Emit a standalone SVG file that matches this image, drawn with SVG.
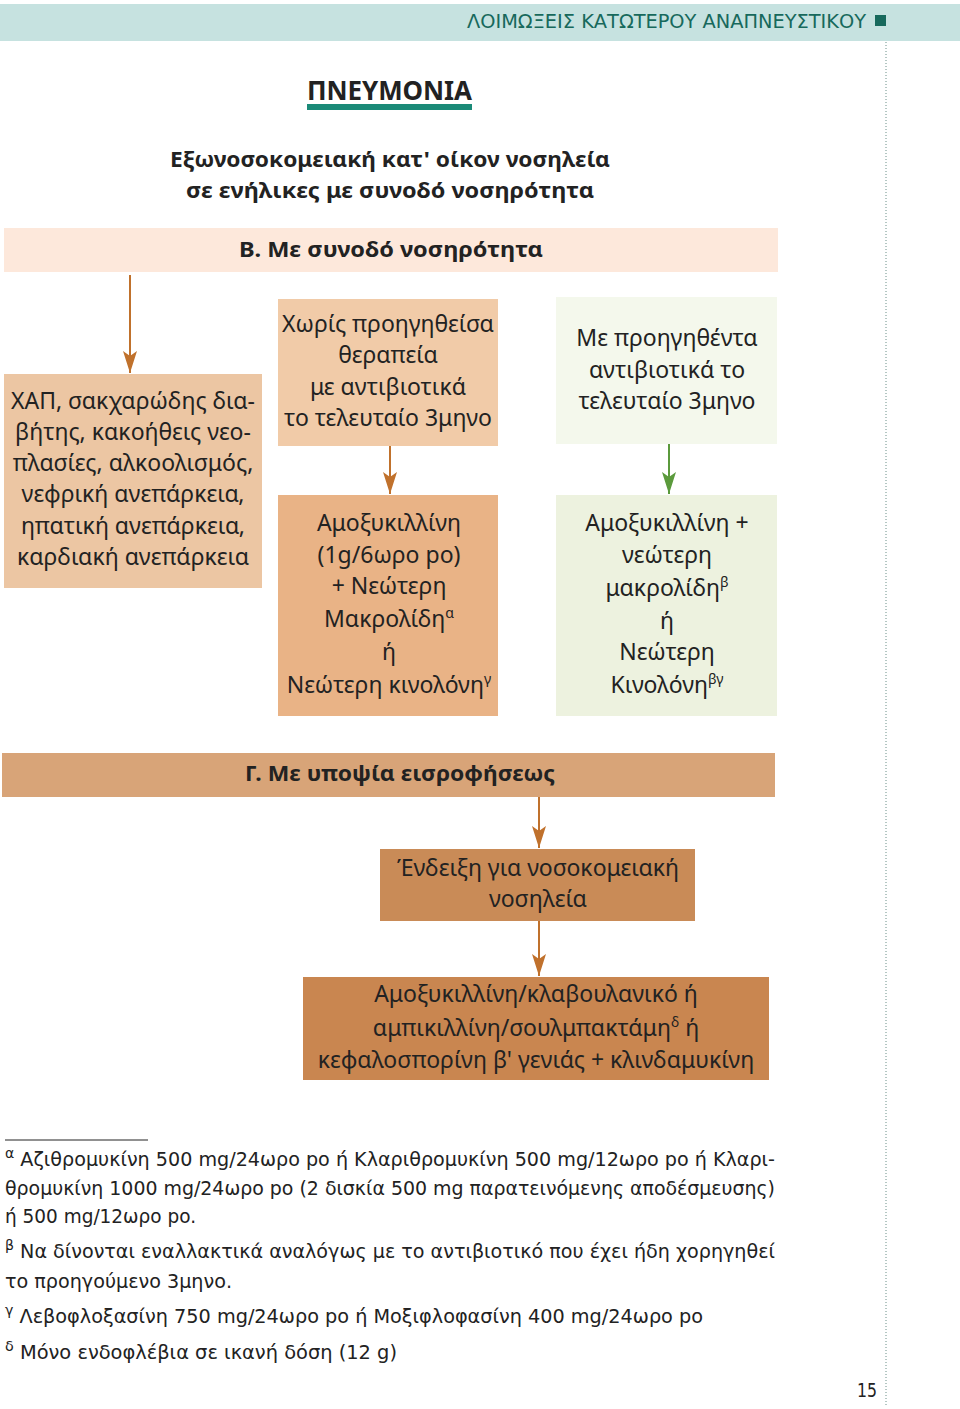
<svg xmlns="http://www.w3.org/2000/svg" width="960" height="1409" viewBox="0 0 960 1409">
<defs>
<style>
.t{font-family:"Noto Sans","DejaVu Sans",sans-serif;font-size:23px;fill:#222;text-anchor:middle}
.b{font-family:"Noto Sans","DejaVu Sans",sans-serif;font-weight:bold;fill:#222;text-anchor:middle}
.f{font-family:"DejaVu Sans Condensed","Noto Sans",sans-serif;font-size:19px;fill:#222}
.sup{font-size:14px}
.ao{stroke:#c0712c;stroke-width:2;fill:none}
.ag{stroke:#5b9a3c;stroke-width:2;fill:none}
</style>
<marker id="mo" markerUnits="userSpaceOnUse" markerWidth="22" markerHeight="14" viewBox="0 0 22 14" refX="22" refY="7" orient="auto"><path d="M0,0 L22,7 L0,14 L5,7 z" fill="#c0712c"/></marker>
<marker id="mg" markerUnits="userSpaceOnUse" markerWidth="22" markerHeight="14" viewBox="0 0 22 14" refX="22" refY="7" orient="auto"><path d="M0,0 L22,7 L0,14 L5,7 z" fill="#5b9a3c"/></marker>
</defs>
<rect width="960" height="1409" fill="#fff"/>
<g id="header">
<rect x="0" y="4" width="960" height="37" fill="#c6e2e0"/>
<text x="467" y="28" font-family="'DejaVu Sans Condensed','Noto Sans',sans-serif" font-size="19" fill="#17695c" textLength="399" lengthAdjust="spacingAndGlyphs">ΛΟΙΜΩΞΕΙΣ ΚΑΤΩΤΕΡΟΥ ΑΝΑΠΝΕΥΣΤΙΚΟΥ</text>
<rect x="875" y="15" width="11" height="11" fill="#17695c"/>
<line x1="886" y1="42" x2="886" y2="1405" stroke="#6a8f88" stroke-width="1" stroke-dasharray="1,2"/>
</g>
<g id="title">
<text x="307" y="100" font-family="'Noto Sans',sans-serif" font-weight="bold" font-size="27" fill="#222" textLength="165" lengthAdjust="spacingAndGlyphs">ΠΝΕΥΜΟΝΙΑ</text>
<rect x="307" y="104" width="165" height="6" fill="#1a8a78"/>
<text class="b" x="390" y="167" font-size="22" textLength="440" lengthAdjust="spacingAndGlyphs">Εξωνοσοκομειακή κατ' οίκον νοσηλεία</text>
<text class="b" x="390" y="198" font-size="22" textLength="408" lengthAdjust="spacingAndGlyphs">σε ενήλικες με συνοδό νοσηρότητα</text>
</g>
<g id="bandB">
<rect x="4" y="228" width="774" height="44" fill="#fde8db"/>
<text class="b" x="391" y="257" font-size="22" textLength="304" lengthAdjust="spacingAndGlyphs">Β. Με συνοδό νοσηρότητα</text>
</g>
<g id="comorb">
<rect x="4" y="374" width="258" height="214" fill="#ecc6a3"/>
<text class="t" x="133" y="409">ΧΑΠ, σακχαρώδης δια-</text>
<text class="t" x="133" y="440">βήτης, κακοήθεις νεο-</text>
<text class="t" x="133" y="471">πλασίες, αλκοολισμός,</text>
<text class="t" x="133" y="502">νεφρική ανεπάρκεια,</text>
<text class="t" x="133" y="534">ηπατική ανεπάρκεια,</text>
<text class="t" x="133" y="565">καρδιακή ανεπάρκεια</text>
</g>
<g id="noprior">
<rect x="278" y="299" width="220" height="147" fill="#f1cba8"/>
<text class="t" x="388" y="332">Χωρίς προηγηθείσα</text>
<text class="t" x="388" y="363">θεραπεία</text>
<text class="t" x="388" y="395">με αντιβιοτικά</text>
<text class="t" x="388" y="426">το τελευταίο 3μηνο</text>
</g>
<g id="amox1">
<rect x="278" y="495" width="220" height="221" fill="#e9b386"/>
<text class="t" x="389" y="531">Αμοξυκιλλίνη</text>
<text class="t" x="389" y="563">(1g/6ωρο po)</text>
<text class="t" x="389" y="594">+ Νεώτερη</text>
<text class="t" x="389" y="627">Μακρολίδη<tspan class="sup" dy="-9">α</tspan></text>
<text class="t" x="389" y="660">ή</text>
<text class="t" x="389" y="693">Νεώτερη κινολόνη<tspan class="sup" dy="-9">γ</tspan></text>
</g>
<g id="prior">
<rect x="556" y="297" width="221" height="147" fill="#f4f8ec"/>
<text class="t" x="667" y="346">Με προηγηθέντα</text>
<text class="t" x="667" y="378">αντιβιοτικά το</text>
<text class="t" x="667" y="409">τελευταίο 3μηνο</text>
</g>
<g id="amox2">
<rect x="556" y="495" width="221" height="221" fill="#edf2df"/>
<text class="t" x="667" y="531">Αμοξυκιλλίνη +</text>
<text class="t" x="667" y="563">νεώτερη</text>
<text class="t" x="667" y="596">μακρολίδη<tspan class="sup" dy="-9">β</tspan></text>
<text class="t" x="667" y="629">ή</text>
<text class="t" x="667" y="660">Νεώτερη</text>
<text class="t" x="667" y="693">Κινολόνη<tspan class="sup" dy="-9">βγ</tspan></text>
</g>
<g id="bandG">
<rect x="2" y="753" width="773" height="44" fill="#d8a478"/>
<text class="b" x="400" y="781" font-size="22" textLength="310" lengthAdjust="spacingAndGlyphs">Γ. Με υποψία εισροφήσεως</text>
</g>
<g id="hosp">
<rect x="380" y="849" width="315" height="72" fill="#c98b57"/>
<text class="t" x="538" y="876">Ένδειξη για νοσοκομειακή</text>
<text class="t" x="538" y="907">νοσηλεία</text>
</g>
<g id="amox3">
<rect x="303" y="977" width="466" height="103" fill="#c98650"/>
<text class="t" x="536" y="1002">Αμοξυκιλλίνη/κλαβουλανικό ή</text>
<text class="t" x="536" y="1036">αμπικιλλίνη/σουλμπακτάμη<tspan class="sup" dy="-9">δ</tspan><tspan dy="9"> ή</tspan></text>
<text class="t" x="536" y="1068">κεφαλοσπορίνη β' γενιάς + κλινδαμυκίνη</text>
</g>
<g id="connectors">
<line class="ao" x1="130" y1="275" x2="130" y2="373" marker-end="url(#mo)"/>
<line class="ao" x1="390" y1="446" x2="390" y2="494" marker-end="url(#mo)"/>
<line class="ag" x1="669" y1="444" x2="669" y2="494" marker-end="url(#mg)"/>
<line class="ao" x1="539" y1="797" x2="539" y2="848" marker-end="url(#mo)"/>
<line class="ao" x1="539" y1="921" x2="539" y2="976" marker-end="url(#mo)"/>
</g>
<g id="footnotes">
<line x1="5" y1="1140" x2="148" y2="1140" stroke="#222" stroke-width="1"/>
<text class="f" x="5" y="1166" textLength="770" lengthAdjust="spacingAndGlyphs"><tspan class="sup" dy="-8">α</tspan><tspan dy="8"> Αζιθρομυκίνη 500 mg/24ωρο po ή Κλαριθρομυκίνη 500 mg/12ωρο po ή Κλαρι-</tspan></text>
<text class="f" x="5" y="1195" textLength="770" lengthAdjust="spacingAndGlyphs">θρομυκίνη 1000 mg/24ωρο po (2 δισκία 500 mg παρατεινόμενης αποδέσμευσης)</text>
<text class="f" x="5" y="1223" textLength="191" lengthAdjust="spacingAndGlyphs">ή 500 mg/12ωρο po.</text>
<text class="f" x="5" y="1258" textLength="770" lengthAdjust="spacingAndGlyphs"><tspan class="sup" dy="-8">β</tspan><tspan dy="8"> Να δίνονται εναλλακτικά αναλόγως με το αντιβιοτικό που έχει ήδη χορηγηθεί</tspan></text>
<text class="f" x="5" y="1288" textLength="227" lengthAdjust="spacingAndGlyphs">το προηγούμενο 3μηνο.</text>
<text class="f" x="5" y="1323" textLength="698" lengthAdjust="spacingAndGlyphs"><tspan class="sup" dy="-8">γ</tspan><tspan dy="8"> Λεβοφλοξασίνη 750 mg/24ωρο po ή Μοξιφλοφασίνη 400 mg/24ωρο po</tspan></text>
<text class="f" x="5" y="1359" textLength="392" lengthAdjust="spacingAndGlyphs"><tspan class="sup" dy="-8">δ</tspan><tspan dy="8"> Μόνο ενδοφλέβια σε ικανή δόση (12 g)</tspan></text>
<text class="f" x="857" y="1397" font-size="21" textLength="20" lengthAdjust="spacingAndGlyphs">15</text>
</g>
</svg>
